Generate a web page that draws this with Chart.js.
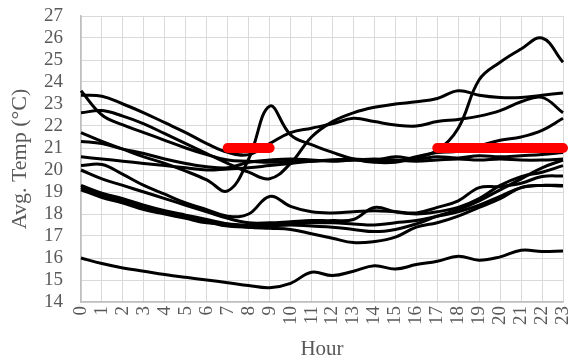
<!DOCTYPE html>
<html>
<head>
<meta charset="utf-8">
<script src="https://cdn.jsdelivr.net/npm/chart.js@4"></script>
<style>
	html, body { margin: 0; padding: 0; background: #fff; }
	#wrap { width: 569px; height: 362px; }
</style>
</head>
<body>
<div id="wrap"><canvas id="lineOne"></canvas></div>
<script>
// hours on the x axis
const hours = ["0","1","2","3","4","5","6","7","8","9","10","11","12","13","14","15","16","17","18","19","20","21","22","23"];

// rooms, upper group
const roomA = [23.6,22.5,22.05,21.7,21.35,21.0,20.7,20.45,20.4,20.35,20.4,20.4,20.45,20.5,20.45,20.6,20.5,20.6,20.55,20.65,20.6,20.65,20.7,20.8];
const roomB = [23.4,23.35,23.0,22.6,22.15,21.7,21.2,20.8,20.7,21.2,21.7,21.9,22.1,22.35,22.2,22.05,22.0,22.2,22.3,22.45,22.7,23.1,23.3,22.6];
const roomC = [22.6,22.7,22.45,22.1,21.65,21.2,20.75,20.3,19.9,19.6,20.3,21.5,22.2,22.6,22.85,23.0,23.1,23.25,23.6,23.4,23.3,23.3,23.4,23.5];
const roomD = [21.7,21.3,20.95,20.6,20.3,19.95,19.55,19.05,20.5,22.9,21.6,21.15,20.8,20.5,20.35,20.35,20.55,20.9,21.9,24.1,24.9,25.5,26.0,24.9];
const roomE = [21.3,21.2,20.95,20.75,20.5,20.3,20.15,20.1,20.35,20.45,20.5,20.45,20.4,20.45,20.4,20.4,20.6,20.8,20.85,21.1,21.35,21.5,21.8,22.35];
const roomF = [20.6,20.5,20.4,20.3,20.2,20.1,20.0,20.05,20.1,20.2,20.3,20.4,20.45,20.45,20.5,20.45,20.4,20.45,20.5,20.45,20.5,20.45,20.45,20.5];

// rooms, lower group
const roomG = [20.2,20.25,19.8,19.3,18.9,18.5,18.2,17.9,18.0,18.8,18.35,18.1,18.05,18.1,18.15,18.1,18.05,18.3,18.6,19.2,19.25,19.4,19.7,19.73];
const roomH = [20.0,19.6,19.3,19.0,18.7,18.4,18.1,17.8,17.6,17.6,17.65,17.7,17.7,17.75,18.3,18.1,18.0,18.1,18.3,18.7,19.3,19.7,19.9,20.2];
const roomI = [19.3,18.95,18.7,18.4,18.15,17.95,17.75,17.55,17.4,17.35,17.3,17.1,16.9,16.7,16.75,16.95,17.4,17.6,17.9,18.3,18.7,19.2,19.3,19.3];
const roomJ = [19.2,18.85,18.6,18.3,18.05,17.85,17.65,17.45,17.4,17.45,17.5,17.45,17.4,17.3,17.2,17.3,17.55,17.9,18.2,18.6,19.1,19.6,20.1,20.45];
const roomK = [19.1,18.75,18.5,18.2,18.0,17.8,17.6,17.55,17.5,17.55,17.6,17.6,17.6,17.55,17.5,17.6,17.7,17.9,18.1,18.4,18.8,19.2,19.3,19.27];
const roomL = [16.0,15.75,15.55,15.4,15.25,15.12,15.0,14.88,14.75,14.65,14.85,15.35,15.2,15.4,15.65,15.5,15.7,15.85,16.08,15.9,16.05,16.35,16.3,16.32];

// setpoint periods
const setMorning = [null,null,null,null,null,null,null,21,21,21,null,null,null,null,null,null,null,null,null,null,null,null,null,null];
const setEvening = [null,null,null,null,null,null,null,null,null,null,null,null,null,null,null,null,null,21,21,21,21,21,21,21];

const yTicksMin = 14;
const yTicksMax = 27;

function createChart() {
	const ctx = document.getElementById("lineOne");
	const rooms = [roomA, roomB, roomC, roomD, roomE, roomF, roomG, roomH, roomI, roomJ, roomK, roomL];

	var sets = [];
	[setMorning, setEvening].forEach(s => {
		sets.push({
			data: s,
			borderColor: "#ff0000",
			borderWidth: 10,
			borderCapStyle: "round",
			pointRadius: 0,
			tension: 0,
			spanGaps: false
		});
	});
	rooms.forEach(r => {
		sets.push({
			data: r,
			borderColor: "#000000",
			borderWidth: 3,
			pointRadius: 0,
			tension: 0.4
		});
	});

	new Chart(ctx, {
		type: "line",
		data: {
			labels: hours,
			datasets: sets
		},
		options: {
			responsive: true,
			maintainAspectRatio: false,
			animation: false,
			layout: { padding: 0 },
			plugins: {
				legend: { display: false },
				tooltip: { enabled: false }
			},
			scales: {
				x: {
					offset: false,
					grid: { color: "#d9d9d9", lineWidth: 1, drawTicks: false },
					border: { color: "#bfbfbf", width: 1.5 },
					ticks: {
						color: "#595959",
						font: { family: "Liberation Serif", size: 19 },
						maxRotation: 90,
						minRotation: 90,
						autoSkip: false,
						padding: 4
					},
					title: {
						display: true,
						text: "Hour",
						color: "#595959",
						font: { family: "Liberation Serif", size: 21 },
						padding: { top: 0, bottom: 0 }
					},
					afterFit: s => {
						s.height = 60;
						s.paddingLeft = 0;
						s.paddingRight = 6;
					}
				},
				y: {
					min: yTicksMin,
					max: yTicksMax,
					grid: { color: "#d9d9d9", lineWidth: 1, drawTicks: false },
					border: { color: "#bfbfbf", width: 1.5 },
					ticks: {
						stepSize: 1,
						autoSkip: false,
						color: "#595959",
						font: { family: "Liberation Serif", size: 19 },
						padding: 18
					},
					title: {
						display: true,
						text: "Avg. Temp (°C)",
						color: "#595959",
						font: { family: "Liberation Serif", size: 22 },
						padding: { top: 7, bottom: 0 }
					},
					afterFit: s => {
						s.width = 81;
						s.paddingTop = 16;
						s.paddingBottom = 0;
					}
				}
			}
		}
	});
}

createChart();
</script>
</body>
</html>
